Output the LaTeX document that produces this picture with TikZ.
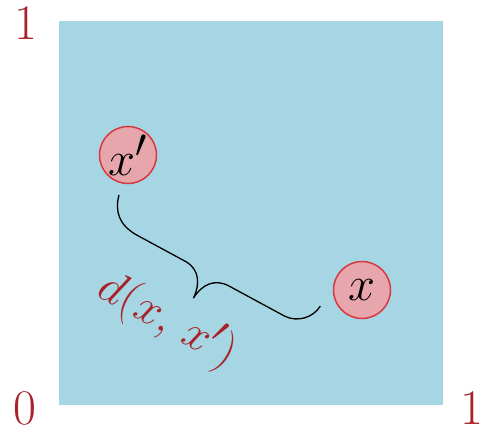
\documentclass[tikz,border=0pt]{standalone}
\usepackage{graphicx}
\definecolor{bg}{RGB}{166,214,227}
\definecolor{ptfill}{RGB}{230,166,171}
\definecolor{ptdraw}{RGB}{216,56,64}
\definecolor{lblred}{RGB}{168,34,42}
\newcommand{\bigtxt}[2]{\scalebox{#1}{\Huge #2}}
\tikzset{
  pt/.style={circle, draw=ptdraw, fill=ptfill, line width=1.5pt, minimum size=57pt, inner sep=0pt},
  axlbl/.style={text=lblred, inner sep=0pt},
  dlbl/.style={text=lblred, inner sep=0pt},
  bracestyle/.style={line width=1.3pt, line join=round}
}
\begin{document}
\begin{tikzpicture}[x=1pt,y=-1pt]
\useasboundingbox (0,0) rectangle (487,433);
\fill[bg] (59,21) rectangle (443,405);
\node[pt] (xp) at (128,155) {\bigtxt{1.95}{$x'$}};
\node[pt] (x) at (362,290) {\bigtxt{1.95}{$x$}};
\coordinate (b2) at (119,195);
\coordinate (b1) at (320,306);
\begin{scope}[shift={(b2)}, rotate=-28.9]
  \draw[bracestyle] (0,0) .. controls (4,16) and (14,26) .. (34,26.5)
    -- (92,26) .. controls (106,27) and (114,38) .. (115,54)
    .. controls (116,38) and (124,27) .. (140,26.5)
    -- (204,26) .. controls (218,25) and (229,14) .. (230,0);
\end{scope}
\node[dlbl, rotate=-29] (d) at (168,320) {\bigtxt{1.9}{$d(x,\,x')$}};
\node[axlbl] (one) at (26,23) {\bigtxt{2}{1}};
\node[axlbl] (zero) at (25,408) {\bigtxt{2}{0}};
\node[axlbl] (onex) at (472,408) {\bigtxt{2}{1}};
\end{tikzpicture}
\end{document}
